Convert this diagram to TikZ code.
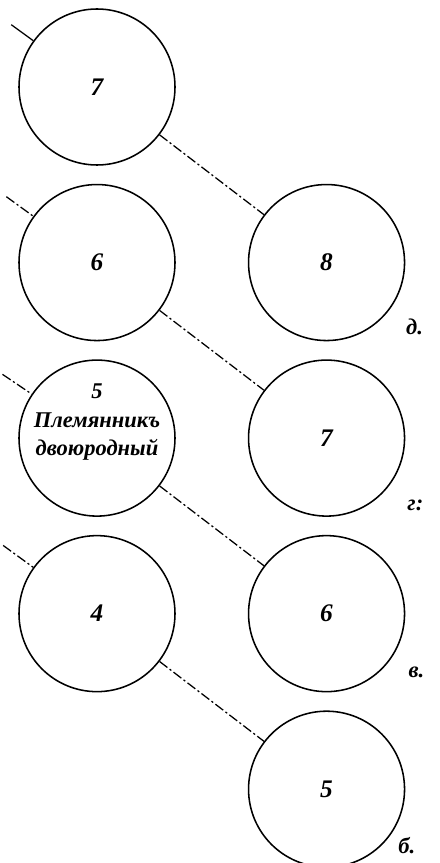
\documentclass[tikz,border=0pt]{standalone}
\usepackage{fontspec}
\setmainfont{Liberation Serif}
\usetikzlibrary{positioning}

\begin{document}
\begin{tikzpicture}[
 node distance=4.5mm and 18mm,
 ring/.style={circle,draw=black,line width=1.1pt,minimum size=3.9cm,inner sep=0pt,font=\fontsize{18}{18}\selectfont\bfseries\itshape},
 link/.style={line width=0.9pt,dash pattern=on 7pt off 2pt on 1.5pt off 2pt},
 stub/.style={line width=0.9pt},
 tag/.style={font=\fontsize{16}{16}\selectfont\bfseries\itshape},
 note/.style={align=center,font=\fontsize{16}{20}\selectfont\bfseries\itshape}
]
\useasboundingbox (0,0) rectangle (10.975,-21.575);
% left column
\node[ring] (l7) at (2.425,-2.175) {7};
\node[ring,below=of l7] (l6) {6};
\node[ring,below=of l6] (l5) {};
\node[ring,below=of l5] (l4) {4};
\node[note] (t5) at ([yshift=0.4cm]l5.center) {5\\Племянникъ\\двоюродный};
% right column
\node[ring,right=of l6] (r8) {8};
\node[ring,right=of l5] (r7) {7};
\node[ring,right=of l4] (r6) {6};
\node[ring,below=of r6] (r5) {5};
% letters
\node[tag] (d8) at ([shift={(-36:2.72cm)}]r8.center) {д.};
\node[tag] (g7) at ([shift={(-37:2.78cm)}]r7.center) {г:};
\node[tag] (v6) at ([shift={(-33:2.68cm)}]r6.center) {в.};
\node[tag] (b5) at ([shift={(-35:2.45cm)}]r5.center) {б.};
% free ends on the left
\coordinate (e7) at ([shift={(144:2.65cm)}]l7.center);
\coordinate (e6) at ([shift={(144:2.8cm)}]l6.center);
\coordinate (e5) at ([shift={(146:2.85cm)}]l5.center);
\coordinate (e4) at ([shift={(144:2.9cm)}]l4.center);
\draw[stub] (e7) -- (l7);
\draw[link] (e6) -- (l6);
\draw[link] (e5) -- (l5);
\draw[link] (e4) -- (l4);
\draw[link] (l7) -- (r8);
\draw[link] (l6) -- (r7);
\draw[link] (l5) -- (r6);
\draw[link] (l4) -- (r5);
\end{tikzpicture}
\end{document}
